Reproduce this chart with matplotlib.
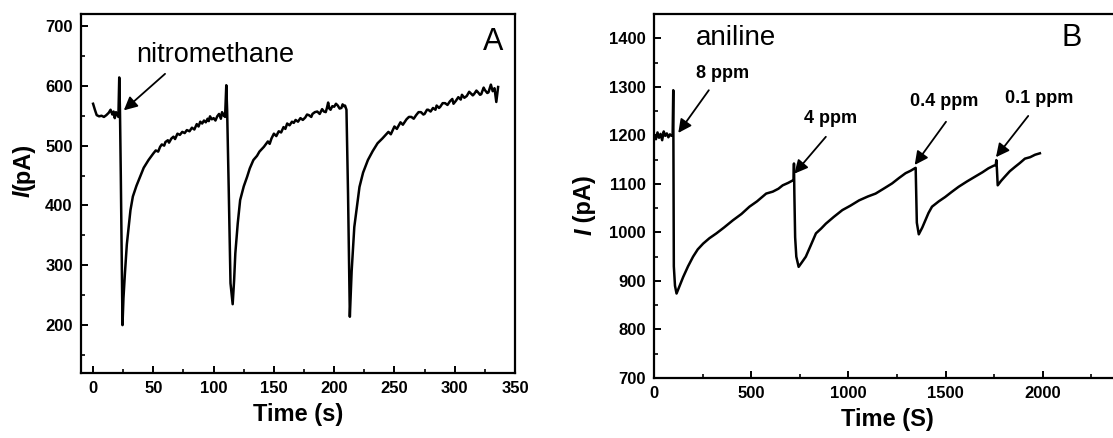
import matplotlib

matplotlib.use("Agg")

import matplotlib.pyplot as plt
from matplotlib.ticker import MultipleLocator

plt.rcParams["font.family"] = ["Liberation Sans", "DejaVu Sans"]

# Panel A: nitromethane response (time in s, current in pA)
time_a = ([0, 1.5, 3, 5, 7, 9, 11, 13, 14.5, 16, 17, 18, 19, 20, 21]
          + [21.7, 22.3, 23, 24.4, 25.2, 26.4, 28, 29.5, 31, 33, 36, 39, 42, 46, 50]
          + [52, 54, 55.6, 57, 59, 60, 62, 63, 65, 66.7, 68, 70, 72, 74, 76, 77.8, 80, 82,
             84, 86, 87.5, 88.9, 90.5, 92, 93.5, 95, 96, 97, 98.5, 100, 101.5, 103, 104.5,
             106, 107, 108, 109.5]
          + [110.5, 111.2, 112.5, 114, 115.8, 117, 118, 120, 122, 125, 127.8, 130, 133, 136, 138, 141.7]
          + [145, 146.5, 148, 150, 152, 154, 156, 158, 159.5, 161, 163, 165, 166.5, 168, 170,
             172, 174, 176, 177.5, 179, 181, 182, 184, 186, 188, 190, 191.5, 193, 194, 195,
             196, 197, 198.5, 200, 201.5, 203, 204.5, 206, 207, 208, 209]
          + [210.2, 211.5, 213, 214.5, 216.7, 219, 221, 224, 228, 232, 236, 240]
          + [245, 247, 250, 252, 255, 257, 260, 262, 264, 266, 268, 270, 272, 274, 275, 277,
             278, 280, 282, 284, 285, 287, 288, 290, 292, 294, 296, 298, 299, 301, 303, 305,
             306, 308, 310, 312, 313, 315, 316, 318, 319, 321, 322, 324, 325, 327, 328, 330,
             331.5, 333, 334.5, 336])
current_a = ([570, 560, 551, 549, 550, 548, 551, 555, 560, 552, 557, 546, 556, 552, 548]
             + [614, 560, 450, 200, 245, 286, 335, 364, 392, 415, 433, 448, 463, 476, 487]
             + [492, 490, 498, 502, 500, 506, 509, 505, 512, 515, 511, 520, 518, 523, 521, 526,
                524, 530, 527, 536, 532, 540, 537, 542, 539, 545, 541, 549, 544, 546, 542, 549,
                553, 545, 556, 551, 548]
             + [601, 560, 430, 270, 235, 275, 320, 370, 409, 432, 448, 462, 476, 483, 490, 498]
             + [507, 503, 512, 520, 516, 524, 522, 531, 528, 537, 534, 540, 538, 543, 540, 546,
                543, 547, 552, 551, 548, 553, 556, 557, 553, 561, 557, 556, 563, 572, 562, 560,
                566, 565, 570, 567, 562, 563, 569, 566, 567]
             + [560, 420, 214, 290, 364, 400, 431, 455, 476, 491, 504, 512]
             + [523, 519, 532, 528, 539, 535, 544, 548, 548, 545, 551, 556, 556, 552, 553, 560,
                560, 557, 563, 560, 567, 563, 565, 571, 571, 568, 574, 578, 570, 575, 581, 577,
                585, 580, 583, 590, 588, 584, 586, 592, 590, 585, 586, 597, 593, 588, 589, 602,
                591, 596, 573, 598])

# Panel B: aniline response (time in S, current in pA)
time_b = ([3, 10, 18, 26, 34, 42, 50, 58, 66, 74, 82, 90, 96]
          + [99, 102, 108, 116, 130, 150, 175, 201, 225, 253, 285, 321, 360, 406, 450, 491,
             530, 577, 611, 640, 662, 690, 718]
          + [720, 722, 726, 732, 744, 760, 781, 805, 833, 860, 884, 925, 969, 1010, 1055,
             1100, 1140, 1185, 1225, 1260, 1294, 1320, 1341]
          + [1346, 1352, 1362, 1380, 1396, 1412, 1430, 1465, 1498, 1530, 1567, 1610, 1652,
             1690, 1720, 1745, 1758]
          + [1761, 1764, 1768, 1785, 1805, 1830, 1857, 1882, 1908, 1935, 1960, 1985])
current_b = ([1200, 1192, 1206, 1195, 1203, 1190, 1208, 1199, 1204, 1196, 1202, 1199, 1201]
             + [1293, 930, 890, 874, 888, 908, 930, 950, 965, 977, 988, 998, 1010, 1025, 1038,
                1053, 1064, 1080, 1084, 1090, 1097, 1102, 1108]
             + [1142, 1080, 990, 950, 929, 938, 950, 972, 998, 1008, 1018, 1032, 1046, 1055,
                1066, 1074, 1080, 1091, 1101, 1112, 1122, 1127, 1132]
             + [1133, 1020, 996, 1010, 1025, 1040, 1053, 1064, 1073, 1083, 1094, 1105, 1115,
                1124, 1132, 1137, 1139]
             + [1149, 1130, 1097, 1106, 1115, 1126, 1135, 1143, 1152, 1155, 1160, 1163])

notes_b = ["8 ppm", "4 ppm", "0.4 ppm", "0.1 ppm"]
note_text_b = [(352, 1328), (910, 1235), (1493, 1269), (1981, 1275)]
note_tail_b = [(282, 1293), (884, 1197), (1502, 1228), (1925, 1240)]
note_head_b = [(125, 1205), (722, 1121), (1341, 1139), (1759, 1155)]


def style_axes(ax):
    for spine in ax.spines.values():
        spine.set_linewidth(1.6)
    ax.tick_params(which="major", direction="in", length=5, width=1.4,
                   labelsize=12, pad=6, top=False, right=False)
    ax.tick_params(which="minor", direction="in", length=3, width=1.2,
                   top=False, right=False)
    for lab in ax.get_xticklabels() + ax.get_yticklabels():
        lab.set_fontweight("bold")


def current_label(ax, x, y, unit):
    # italic bold I below the upright unit, rotated like a y label
    ax.text(x, y, "I", fontsize=17, fontweight="bold", style="italic",
            rotation=90, transform=ax.transAxes, ha="center", va="top")
    ax.text(x, y, unit, fontsize=17, fontweight="bold", rotation=90,
            transform=ax.transAxes, ha="center", va="bottom")


arrow = dict(arrowstyle="-|>", color="black", lw=1.3, mutation_scale=20,
             shrinkA=0, shrinkB=0)

fig = plt.figure(figsize=(11.13, 4.38), dpi=100)

ax_a = fig.add_axes([0.0728, 0.1484, 0.3899, 0.8196])
ax_a.plot(time_a, current_a, color="black", lw=1.8)
ax_a.set_xlim(-10, 350)
ax_a.set_ylim(120, 720)
ax_a.xaxis.set_major_locator(MultipleLocator(50))
ax_a.xaxis.set_minor_locator(MultipleLocator(25))
ax_a.yaxis.set_major_locator(MultipleLocator(100))
ax_a.yaxis.set_minor_locator(MultipleLocator(50))
ax_a.set_yticks([200, 300, 400, 500, 600, 700])
style_axes(ax_a)
ax_a.set_xlabel("Time (s)", fontsize=17, fontweight="bold", labelpad=5)
current_label(ax_a, -0.134, 0.51, "(pA)")
ax_a.annotate("", xy=(25.5, 559), xytext=(59.7, 620), arrowprops=arrow)
ax_a.text(36, 651, "nitromethane", fontsize=19.5, ha="left", va="center")
ax_a.text(332, 674, "A", fontsize=22, ha="center", va="center")

ax_b = fig.add_axes([0.5876, 0.137, 0.4192, 0.831])
ax_b.plot(time_b, current_b, color="black", lw=1.8)
ax_b.set_xlim(0, 2400)
ax_b.set_ylim(700, 1450)
ax_b.xaxis.set_major_locator(MultipleLocator(500))
ax_b.xaxis.set_minor_locator(MultipleLocator(250))
ax_b.yaxis.set_major_locator(MultipleLocator(100))
ax_b.yaxis.set_minor_locator(MultipleLocator(50))
ax_b.set_xticks([0, 500, 1000, 1500, 2000])
ax_b.set_yticks([700, 800, 900, 1000, 1100, 1200, 1300, 1400])
style_axes(ax_b)
ax_b.set_xlabel("Time (S)", fontsize=17, fontweight="bold", labelpad=5)
current_label(ax_b, -0.148, 0.41, " (pA)")
ax_b.text(423, 1400, "aniline", fontsize=20, ha="center", va="center")
ax_b.text(2096, 1400, "B", fontsize=22, ha="left", va="center")
for label, txt, tail, head in zip(notes_b, note_text_b, note_tail_b, note_head_b):
    ax_b.text(txt[0], txt[1], label, fontsize=13, fontweight="bold",
              ha="center", va="center")
    ax_b.annotate("", xy=head, xytext=tail, arrowprops=arrow)

fig.savefig("out.png", dpi=100)
